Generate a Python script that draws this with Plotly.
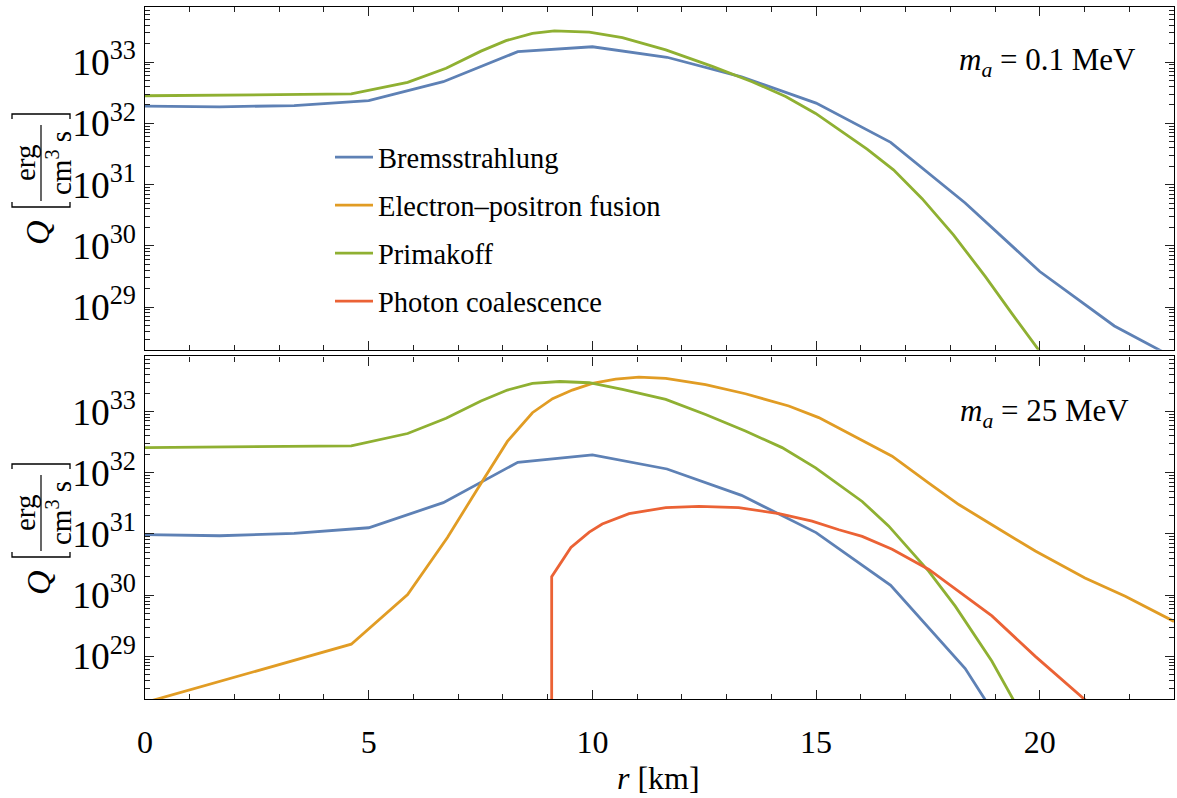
import plotly.graph_objects as go

# ---------------- data ----------------
# Top panel: m_a = 0.1 MeV
r_brems_top = [0, 1.667, 3.333, 5.0, 6.667, 8.333, 10.0, 11.667, 13.333, 15.0, 16.667, 18.333, 20.0, 21.667, 23.333]
q_brems_top = [1.91e32, 1.86e32, 1.95e32, 2.34e32, 4.79e32, 1.48e33, 1.78e33, 1.20e33, 5.75e32, 2.14e32,
               4.90e31, 5.01e30, 3.80e29, 4.90e28, 1.10e28]

r_prim_top = [0, 4.61, 5.87, 6.73, 7.51, 8.07, 8.66, 9.15, 9.93, 10.67, 11.64, 12.68, 13.57, 14.32, 14.99,
              16.14, 16.73, 17.37, 18.07, 18.78, 19.37, 19.97, 20.5]
q_prim_top = [2.82e32, 3.02e32, 4.68e32, 7.94e32, 1.51e33, 2.24e33, 2.95e33, 3.24e33, 3.09e33, 2.51e33,
              1.58e33, 8.51e32, 4.79e32, 2.75e32, 1.45e32, 3.80e31, 1.74e31, 5.89e30, 1.51e30, 3.16e29,
              7.94e28, 2.04e28, 6.0e27]

# Bottom panel: m_a = 25 MeV
r_brems_bot = [0, 1.667, 3.333, 5.0, 6.667, 8.333, 10.0, 11.667, 13.333, 15.0, 16.667, 18.333, 20.0]
q_brems_bot = [9.77e30, 9.33e30, 1.02e31, 1.26e31, 3.24e31, 1.48e32, 1.95e32, 1.15e32, 4.27e31, 1.05e31,
               1.45e30, 6.31e28, 7.9e26]

r_prim_bot = [0, 4.61, 5.87, 6.73, 7.51, 8.10, 8.66, 9.27, 9.93, 10.67, 11.64, 12.53, 13.42, 14.24, 14.99,
              16.03, 16.62, 17.52, 18.11, 18.93, 19.41, 19.9]
q_prim_bot = [2.57e32, 2.75e32, 4.37e32, 7.76e32, 1.48e33, 2.24e33, 2.88e33, 3.09e33, 2.95e33, 2.29e33,
              1.58e33, 8.91e32, 4.79e32, 2.57e32, 1.20e32, 3.39e31, 1.35e31, 2.45e30, 6.61e29, 8.32e28,
              1.95e28, 5.0e27]

r_fus_bot = [0, 4.61, 5.87, 6.76, 7.47, 8.10, 8.66, 9.11, 9.55, 10.0, 10.52, 11.04, 11.64, 12.53, 13.42,
             14.39, 15.06, 16.06, 16.70, 17.52, 18.19, 18.93, 19.90, 21.01, 21.91, 23.0]
q_fus_bot = [1.76e28, 1.58e29, 1.02e30, 8.71e30, 6.03e31, 3.24e32, 9.55e32, 1.62e33, 2.24e33, 2.88e33,
             3.39e33, 3.63e33, 3.47e33, 2.75e33, 1.95e33, 1.23e33, 7.94e32, 3.24e32, 1.86e32, 6.76e31,
             3.02e31, 1.41e31, 5.25e30, 1.91e30, 9.55e29, 3.72e29]

r_coal_bot = [9.09, 9.09, 9.52, 9.93, 10.22, 10.82, 11.64, 12.38, 13.27, 14.17, 14.91, 15.51, 16.03, 16.70,
              17.52, 18.19, 18.93, 19.90, 21.01, 21.5]
q_coal_bot = [1e25, 2.00e30, 6.03e30, 1.07e31, 1.45e31, 2.14e31, 2.69e31, 2.82e31, 2.69e31, 2.14e31,
              1.62e31, 1.17e31, 9.12e30, 5.62e30, 2.63e30, 1.15e30, 4.57e29, 1.00e29, 1.95e28, 9.5e27]

series_names = ["Bremsstrahlung", "Electron\u2013positron fusion", "Primakoff", "Photon coalescence"]
series_colors = ["#5E81B5", "#E19C24", "#8FB032", "#EB6235"]
panel_labels = ["<i>m</i><sub><i>a</i></sub> = 0.1 MeV", "<i>m</i><sub><i>a</i></sub> = 25 MeV"]
x_title = "<i>r</i> [km]"

# ---------------- figure ----------------
FONT = "Liberation Serif, Times New Roman, serif"
W, H = 1177, 798
L, R, T, B = 145, 3, 7, 99
PW, PH = W - L - R, H - T - B

def px(x):
    return (x - L) / PW

def py(y):
    return (H - B - y) / PH

def fnt(size):
    return dict(family=FONT, size=size, color="black")

fig = go.Figure()

def add(x, y, idx, xa, ya, show):
    fig.add_trace(go.Scatter(
        x=x, y=y, mode="lines", name=series_names[idx],
        line=dict(color=series_colors[idx], width=2.8),
        xaxis=xa, yaxis=ya, legendgroup=series_names[idx],
        showlegend=show, legendrank=idx + 1, cliponaxis=True))

# top panel
add(r_brems_top, q_brems_top, 0, "x", "y", True)
add(r_prim_top, q_prim_top, 2, "x", "y", True)
# bottom panel
add(r_brems_bot, q_brems_bot, 0, "x2", "y2", False)
add(r_fus_bot, q_fus_bot, 1, "x2", "y2", True)
add(r_prim_bot, q_prim_bot, 2, "x2", "y2", False)
add(r_coal_bot, q_coal_bot, 3, "x2", "y2", True)

yrange = [28.303, 33.9]
top_dom = [1 - 342.7 / PH, 1]
bot_dom = [0, 342.6 / PH]

def xaxis(dom_anchor, labels):
    return dict(range=[0, 23], dtick=5, tick0=0, ticks="inside", ticklen=9, tickwidth=1,
                tickcolor="#222", showline=True, linecolor="black", linewidth=1.2,
                mirror="allticks", showgrid=False, zeroline=False, showticklabels=labels,
                anchor=dom_anchor, ticklabelstandoff=14, tickfont=fnt(32),
                minor=dict(ticks="inside", ticklen=5, dtick=1, tickcolor="#222", tickwidth=1,
                           showgrid=False))

def yaxis(dom, anchor):
    return dict(type="log", range=yrange, dtick=1, exponentformat="power", domain=dom,
                anchor=anchor, ticks="inside", ticklen=9, tickwidth=1, tickcolor="#222",
                showline=True, linecolor="black", linewidth=1.2, mirror="allticks",
                showgrid=False, zeroline=False, tickfont=fnt(30), ticklabelstandoff=2,
                minor=dict(ticks="inside", ticklen=5, dtick="D1", tickcolor="#222",
                           tickwidth=1, showgrid=False))

fig.update_layout(
    width=W, height=H,
    margin=dict(l=L, r=R, t=T, b=B, pad=0),
    paper_bgcolor="white", plot_bgcolor="white",
    font=fnt(28),
    xaxis=xaxis("y", False),
    xaxis2=dict(xaxis("y2", True), matches="x"),
    yaxis=yaxis(top_dom, "x"),
    yaxis2=yaxis(bot_dom, "x2"),
    showlegend=True,
    legend=dict(x=px(330), y=py(132), xanchor="left", yanchor="top",
                font=fnt(28.5), bgcolor="rgba(0,0,0,0)", borderwidth=0, itemwidth=38,
                tracegroupgap=8, itemclick=False, itemdoubleclick=False),
)

ann = []
shapes = []
# panel labels
ann.append(dict(x=px(1138), y=py(62), xref="paper", yref="paper", xanchor="right", yanchor="middle",
                text=panel_labels[0], showarrow=False, font=fnt(31)))
ann.append(dict(x=px(1131), y=py(413), xref="paper", yref="paper", xanchor="right", yanchor="middle",
                text=panel_labels[1], showarrow=False, font=fnt(31)))
# x title
ann.append(dict(x=px(658), y=py(778), xref="paper", yref="paper", xanchor="center", yanchor="middle",
                text=x_title, showarrow=False, font=fnt(32)))

# y titles:  Q [ erg / (cm^3 s) ]
for off in (0, 350):
    ann.append(dict(x=px(38), y=py(233 + off), xref="paper", yref="paper", xanchor="center",
                    yanchor="middle", text="<i>Q</i>", textangle=-90, showarrow=False,
                    font=fnt(34)))
    ann.append(dict(x=px(25), y=py(163 + off), xref="paper", yref="paper", xanchor="center",
                    yanchor="middle", text="erg", textangle=-90, showarrow=False,
                    font=fnt(29)))
    ann.append(dict(x=px(59), y=py(163 + off), xref="paper", yref="paper", xanchor="center",
                    yanchor="middle", text="cm<sup>3</sup> s", textangle=-90, showarrow=False,
                    font=fnt(29)))
    shapes.append(dict(type="line", xref="paper", yref="paper",
                       x0=px(41), x1=px(41), y0=py(125 + off), y1=py(201 + off),
                       line=dict(color="black", width=1.2)))
    for yb, d in ((114 + off, 5), (207 + off, -5)):
        path = "M {a},{b} L {a},{c} L {e},{c} L {e},{b}".format(
            a=px(12), e=px(70), b=py(yb + d), c=py(yb))
        shapes.append(dict(type="path", xref="paper", yref="paper", path=path,
                           line=dict(color="black", width=1.3)))

fig.update_layout(annotations=ann, shapes=shapes)
fig.write_html("out.html")
